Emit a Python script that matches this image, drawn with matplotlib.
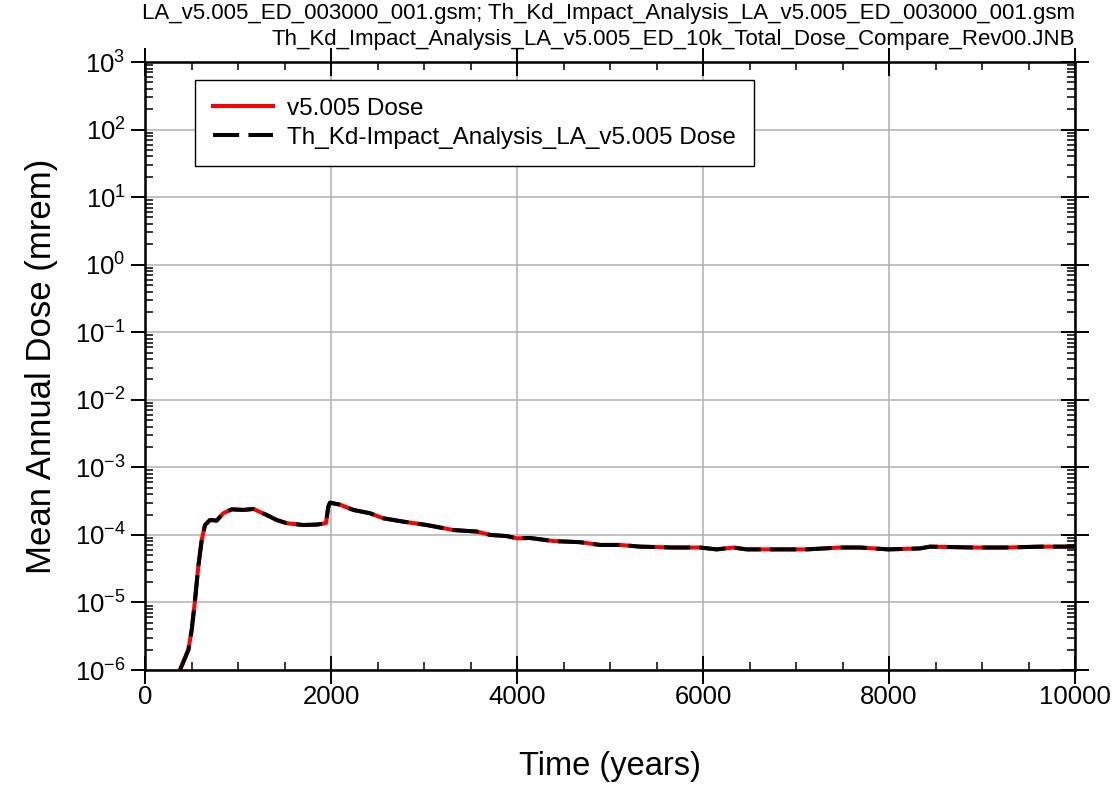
import matplotlib
matplotlib.use("Agg")
import matplotlib.pyplot as plt
import matplotlib.ticker as mticker
import numpy as np

plt.rcParams['font.family'] = ['Liberation Sans', 'DejaVu Sans']
plt.rcParams['mathtext.fontset'] = 'custom'
plt.rcParams['mathtext.rm'] = 'Liberation Sans'
plt.rcParams['mathtext.default'] = 'rm'
plt.rcParams['axes.unicode_minus'] = False

# Time (years) and mean annual dose (mrem)
years = [376, 466, 502, 538, 573, 610, 645, 699, 771, 842, 932, 1057, 1165,
         1308, 1416, 1523, 1702, 1846, 1946, 1971, 1989, 2097, 2240, 2419,
         2563, 2778, 3029, 3315, 3567, 3710, 3889, 3997, 4140, 4391, 4677,
         4892, 5107, 5323, 5681, 5968, 6147, 6326, 6470, 6613, 7115, 7473,
         7688, 7993, 8333, 8441, 8907, 9265, 9624, 10000]
dose = [1.0e-6, 1.98e-6, 3.9e-6, 1.09e-5, 3.4e-5, 8.4e-5, 1.40e-4, 1.66e-4,
        1.63e-4, 2.09e-4, 2.39e-4, 2.34e-4, 2.42e-4, 1.97e-4, 1.66e-4,
        1.49e-4, 1.40e-4, 1.42e-4, 1.49e-4, 2.62e-4, 3.0e-4, 2.8e-4,
        2.34e-4, 2.09e-4, 1.76e-4, 1.57e-4, 1.40e-4, 1.18e-4, 1.12e-4,
        1.0e-4, 9.6e-5, 8.9e-5, 9.0e-5, 8.1e-5, 7.8e-5, 7.1e-5, 7.1e-5,
        6.7e-5, 6.5e-5, 6.5e-5, 6.1e-5, 6.5e-5, 6.1e-5, 6.1e-5, 6.1e-5,
        6.5e-5, 6.5e-5, 6.1e-5, 6.3e-5, 6.7e-5, 6.5e-5, 6.5e-5, 6.7e-5,
        6.7e-5]
# the Th Kd impact case overlies the base case
dose_th = list(dose)

title_lines = ["LA_v5.005_ED_003000_001.gsm; Th_Kd_Impact_Analysis_LA_v5.005_ED_003000_001.gsm",
               "Th_Kd_Impact_Analysis_LA_v5.005_ED_10k_Total_Dose_Compare_Rev00.JNB"]

fig = plt.figure(figsize=(11.16, 7.89), dpi=100)
ax = fig.add_axes([145 / 1116, 1 - 670 / 789, 930 / 1116, 608 / 789])

ax.plot(years, dose, color="red", lw=2.9, label="v5.005 Dose", zorder=3)
ax.plot(years, dose_th, color="black", lw=2.9, dashes=(6.5, 2.3),
        label="Th_Kd-Impact_Analysis_LA_v5.005 Dose", zorder=4)

ax.set_yscale("log")
ax.set_xlim(0, 10000)
ax.set_ylim(1e-6, 1e3)
ax.xaxis.set_major_locator(mticker.MultipleLocator(2000))
ax.xaxis.set_minor_locator(mticker.MultipleLocator(500))
ax.yaxis.set_major_locator(mticker.LogLocator(base=10, numticks=20))
ax.yaxis.set_minor_locator(mticker.LogLocator(base=10, subs=np.arange(2, 10), numticks=20))
ax.yaxis.set_minor_formatter(mticker.NullFormatter())
ax.yaxis.set_major_formatter(mticker.FuncFormatter(
    lambda v, p: "10$^{%d}$" % int(round(np.log10(v)))))

ax.grid(True, which="major", color="#b0b0b0", lw=1.1)
ax.tick_params(axis="x", which="major", direction="inout", length=20, width=1.4,
               top=True, labelsize=18.5, pad=1)
ax.tick_params(axis="y", which="major", direction="out", length=10, width=1.4,
               labelsize=18.5, pad=4)
ax.tick_params(which="minor", direction="in", length=6, width=1.1, top=True)
for s in ax.spines.values():
    s.set_linewidth(1.8)

# right side ticks point inward
ax2 = ax.twinx()
ax2.set_yscale("log")
ax2.set_ylim(ax.get_ylim())
ax2.yaxis.set_major_locator(mticker.LogLocator(base=10, numticks=20))
ax2.yaxis.set_minor_locator(mticker.LogLocator(base=10, subs=np.arange(2, 10), numticks=20))
ax2.tick_params(which="major", direction="inout", length=20, width=1.4, labelright=False)
ax2.tick_params(which="minor", direction="in", length=6, width=1.1, labelright=False)

ax.set_xlabel("Time (years)", fontsize=23.5, labelpad=30)
ax.set_ylabel("Mean Annual Dose (mrem)", fontsize=25, labelpad=12)

leg = ax.legend(loc="upper left", bbox_to_anchor=(0.0538, 0.970), fontsize=17.5,
                frameon=True, fancybox=False, handlelength=2.47,
                handletextpad=0.6, borderpad=0.72, labelspacing=0.28,
                borderaxespad=0)
leg.get_frame().set_edgecolor("black")
leg.get_frame().set_linewidth(1.0)
leg.get_frame().set_alpha(1)

fig.text(1075 / 1116, 1 - 14 / 789, title_lines[0], ha="right", va="center", fontsize=16)
fig.text(1075 / 1116, 1 - 39 / 789, title_lines[1], ha="right", va="center", fontsize=16)

fig.savefig("out.png", dpi=100)
